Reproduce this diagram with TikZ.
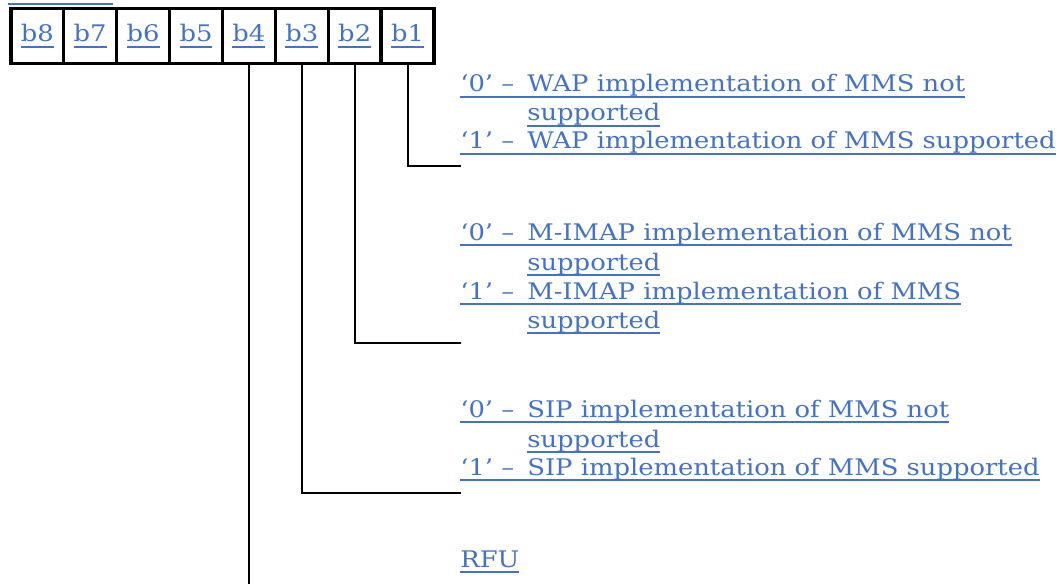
\documentclass[tikz,border=0pt]{standalone}
\usepackage{fontspec}
\setmainfont{DejaVu Serif}[FakeStretch=1.13]
\usetikzlibrary{positioning}
\definecolor{linkblue}{RGB}{68,114,196}
% underline in link colour
\newcommand{\undl}[1]{\setbox0\hbox{#1}\rlap{\color{linkblue}\rule[-3.4pt]{\wd0}{1.1pt}}\box0}
\newcommand{\opt}[2]{\undl{\makebox[1.34cm][l]{#1}#2}}

\tikzset{
  bitcell/.style={draw=black,line width=1.9pt,minimum width=1.058cm,minimum height=1.09cm,inner sep=0pt,font=\fontsize{13}{15}\selectfont,text=linkblue},
  optline/.style={anchor=base west,inner sep=0pt,font=\fontsize{13}{15}\selectfont,text=linkblue},
  wire/.style={line width=1.2pt}
}

\begin{document}
\begin{tikzpicture}[x=0.02cm,y=-0.02cm]
\useasboundingbox (0,0) rectangle (1060,584);
\node[optline] (octet) at (8,-1) {\undl{Octet 3:}};
\foreach \i in {1,...,8}
  \node[bitcell] (b\i) at ({407.6-52.9*(\i-1)},36) {\undl{b\i}};
% b1: WAP
\node[optline] (wap0) at (460,92) {\opt{‘0’ –}{WAP implementation of MMS not}};
\node[optline] (wap0b) at (527,121) {\undl{supported}};
\node[optline] (wap1) at (460,149) {\opt{‘1’ –}{WAP implementation of MMS supported}};
% b2: M-IMAP
\node[optline] (imap0) at (460,240) {\opt{‘0’ –}{M-IMAP implementation of MMS not}};
\node[optline] (imap0b) at (527,270) {\undl{supported}};
\node[optline] (imap1) at (460,299) {\opt{‘1’ –}{M-IMAP implementation of MMS}};
\node[optline] (imap1b) at (527,328) {\undl{supported}};
% b3: SIP
\node[optline] (sip0) at (460,417) {\opt{‘0’ –}{SIP implementation of MMS not}};
\node[optline] (sip0b) at (527,447) {\undl{supported}};
\node[optline] (sip1) at (460,475) {\opt{‘1’ –}{SIP implementation of MMS supported}};
% b4
\node[optline] (rfu) at (460,567) {\undl{RFU}};
\coordinate (e1) at (461,166);
\coordinate (e2) at (461,343);
\coordinate (e3) at (461,493);
\coordinate (e4) at (b4.south |- 0,590);
\draw[wire] (b1.south) |- (e1);
\draw[wire] (b2.south) |- (e2);
\draw[wire] (b3.south) |- (e3);
\draw[wire] (b4.south) -- (e4);
\end{tikzpicture}
\end{document}
